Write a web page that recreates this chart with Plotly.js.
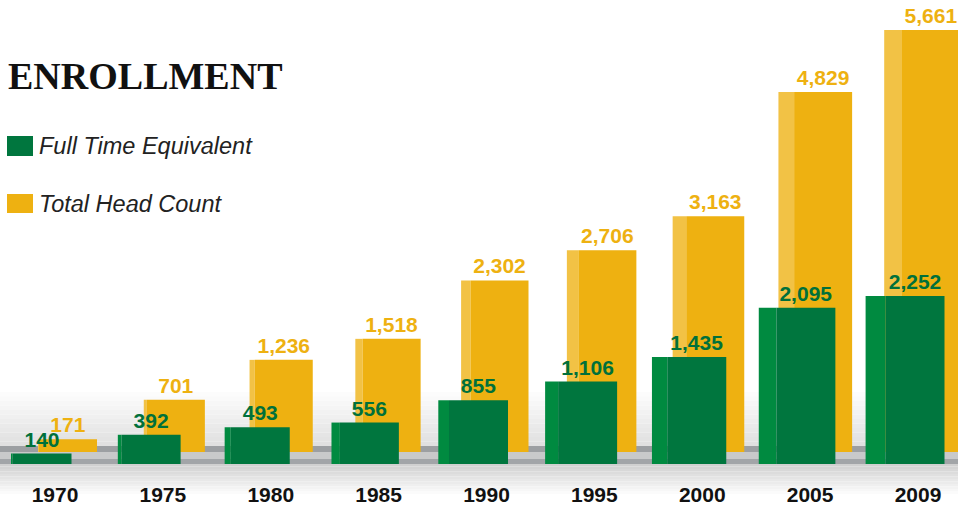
<!DOCTYPE html>
<html>
<head>
<meta charset="utf-8">
<script src="https://cdn.plot.ly/plotly-3.0.1.min.js"></script>
<style>html,body{margin:0;padding:0;background:#fff;}#chart{width:958px;height:506px;}</style>
</head>
<body>
<div id="chart"></div>
<script>
// ---- data ----
const years = ["1970","1975","1980","1985","1990","1995","2000","2005","2009"];
const fullTimeEquivalent = [140, 392, 493, 556, 855, 1106, 1435, 2095, 2252];
const totalHeadCount = [171, 701, 1236, 1518, 2302, 2706, 3163, 4829, 5661];
const seriesNames = ["Full Time Equivalent", "Total Head Count"];
const chartTitle = "ENROLLMENT";

// ---- styling / geometry ----
const W = 958, H = 506;
const py = p => (H - p) / H;           // pixel (from top) -> paper y
const pxPerUnit = 422 / 5661;          // shared value scale (px per student)
const yellowBase = 452, greenBase = 464;
const gUnit = 109.125, yUnit = 107.875; // px per category step
const gFront = 59 / gUnit, yFront = 58 / yUnit;
const gSide = years.map((_, i) => (1.5 + 2.3 * i) / gUnit);
const ySide = years.map((_, i) => (1 + 2.1 * i) / yUnit);

const GREEN = "#00763e", GREEN_SIDE = "#008a40", GREEN_TXT = "#00703b";
const YEL = "#eeb111", YEL_SIDE = "#f2c245";
const boldFont = "Liberation Sans, Arial, sans-serif";

const traces = [
  { type: "bar", x: years, y: totalHeadCount, xaxis: "x", yaxis: "y",
    width: ySide, offset: ySide.map(s => -yFront / 2 - s),
    marker: { color: YEL_SIDE, line: { width: 0 } }, hoverinfo: "skip", showlegend: false },
  { type: "bar", name: seriesNames[1], x: years, y: totalHeadCount, xaxis: "x", yaxis: "y",
    width: yFront, offset: -yFront / 2,
    marker: { color: YEL, line: { width: 0 } },
    texttemplate: "%{y:,}", textposition: "outside", cliponaxis: false, constraintext: "none",
    textfont: { family: boldFont, size: 21, color: YEL, weight: "bold" } },
  { type: "bar", x: years, y: fullTimeEquivalent, xaxis: "x2", yaxis: "y2",
    width: gSide, offset: gSide.map(s => -gFront / 2 - s),
    marker: { color: GREEN_SIDE, line: { width: 0 } }, hoverinfo: "skip", showlegend: false },
  { type: "bar", name: seriesNames[0], x: years, y: fullTimeEquivalent, xaxis: "x2", yaxis: "y2",
    width: gFront, offset: -gFront / 2,
    marker: { color: GREEN, line: { width: 0 } },
    texttemplate: "%{y:,}", textposition: "outside", cliponaxis: false, constraintext: "none",
    textfont: { family: boldFont, size: 21, color: GREEN_TXT, weight: "bold" } }
];

// decorative floor / shading
const shapes = [];
const strip = (y0, y1, c) => shapes.push({ type: "rect", xref: "paper", yref: "paper", x0: 0, x1: 1,
  y0: py(y1), y1: py(y0), fillcolor: c, line: { width: 0 }, layer: "below" });
for (let k = 0; k < 12; k++) {
  const v = Math.round(255 - (255 - 224) * (k + 1) / 12);
  strip(392 + k * 4.5, 392 + (k + 1) * 4.5, `rgb(${v},${v},${v})`);
}
strip(446, 452, "#9c9fa2");
strip(452, 459, "#c8c9ca");
strip(459, 464, "#a2a5a8");
for (let k = 0; k < 12; k++) {
  const v = Math.round(208 + (255 - 208) * k / 12);
  strip(464 + k * 2.5, 464 + (k + 1) * 2.5, `rgb(${v},${v},${v})`);
}
// legend swatches
shapes.push({ type: "rect", xref: "paper", yref: "paper", x0: 7 / W, x1: 33 / W, y0: py(156), y1: py(136),
  fillcolor: GREEN, line: { width: 0 } });
shapes.push({ type: "rect", xref: "paper", yref: "paper", x0: 7 / W, x1: 33 / W, y0: py(213), y1: py(194),
  fillcolor: YEL, line: { width: 0 } });

const annotations = [
  { text: "<b>" + chartTitle + "</b>", xref: "paper", yref: "paper", x: 6 / W, y: py(76), xanchor: "left", yanchor: "middle",
    showarrow: false, font: { family: "Liberation Serif, Times New Roman, serif", size: 38, color: "#111" } },
  { text: "<i>" + seriesNames[0] + "</i>", xref: "paper", yref: "paper", x: 37 / W, y: py(146),
    xanchor: "left", yanchor: "middle", showarrow: false,
    font: { family: "Liberation Sans, Arial, sans-serif", size: 23.5, color: "#222" } },
  { text: "<i>" + seriesNames[1] + "</i>", xref: "paper", yref: "paper", x: 37 / W, y: py(204),
    xanchor: "left", yanchor: "middle", showarrow: false,
    font: { family: "Liberation Sans, Arial, sans-serif", size: 23.5, color: "#222" } }
];

const layout = {
  width: W, height: H,
  margin: { l: 0, r: 0, t: 0, b: 0 },
  paper_bgcolor: "#fff", plot_bgcolor: "rgba(0,0,0,0)",
  barmode: "overlay", showlegend: false,
  xaxis: { type: "category", domain: [0, 1], anchor: "y", range: [-68 / yUnit, 8 + 27 / yUnit],
    showgrid: false, zeroline: false, showline: false, ticks: "",
    ticklabelshift: -13, ticklabelstandoff: 28,
    tickfont: { family: boldFont, size: 21, color: "#111", weight: "bold" } },
  yaxis: { domain: [py(yellowBase), 1], anchor: "x", range: [0, yellowBase / pxPerUnit], visible: false },
  xaxis2: { type: "category", domain: [0, 1], anchor: "y2", range: [-42 / gUnit, 8 + 43 / gUnit], visible: false },
  yaxis2: { domain: [py(greenBase), 1], anchor: "x2", range: [0, greenBase / pxPerUnit], visible: false },
  shapes: shapes,
  annotations: annotations
};

Plotly.newPlot("chart", traces, layout, { staticPlot: true, displayModeBar: false });
</script>
</body>
</html>
